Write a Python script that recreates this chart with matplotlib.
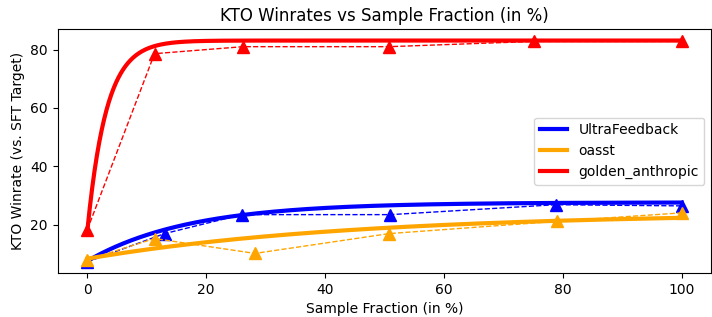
import numpy as np
import matplotlib
matplotlib.use("Agg")
from matplotlib import pyplot as plt

# winrate points
uf_x = [0, 13, 26, 51, 78.8, 100]
uf_y = [7.2, 16.9, 23.4, 23.4, 26.8, 26.4]

oasst_x = [0, 11.3, 28.2, 50.8, 79, 100]
oasst_y = [7.9, 15.2, 10.1, 16.9, 21.1, 24.0]

ga_x = [0, 11.3, 26.2, 50.8, 75.1, 100]
ga_y = [18.3, 78.6, 81.0, 81.0, 82.8, 82.8]

names = ["UltraFeedback", "oasst", "golden_anthropic"]
colors = ["blue", "orange", "red"]

# saturating fit curves y = top - (top - start) * exp(-x / tau), as drawn
fit_start = [7.5, 8.3, 18.0]
fit_top = [27.6, 24.0, 83.1]
fit_tau = [17, 45, 3.2]

fig, ax = plt.subplots(figsize=(7.12, 3.17), dpi=100)
xs = np.linspace(0, 100, 500)
series = [(uf_x, uf_y), (oasst_x, oasst_y), (ga_x, ga_y)]
for i, (x, y) in enumerate(series):
    c = colors[i]
    ax.plot(x, y, "--^", color=c, lw=1, markersize=8.5)
    fit = fit_top[i] - (fit_top[i] - fit_start[i]) * np.exp(-xs / fit_tau[i])
    ax.plot(xs, fit, color=c, lw=3, label=names[i])

ax.set_title("KTO Winrates vs Sample Fraction (in %)")
ax.set_xlabel("Sample Fraction (in %)")
ax.set_ylabel("KTO Winrate (vs. SFT Target)")
ax.legend(loc="center right")
fig.subplots_adjust(left=0.081, right=0.999, bottom=0.139, top=0.907)
fig.savefig("out.png")
